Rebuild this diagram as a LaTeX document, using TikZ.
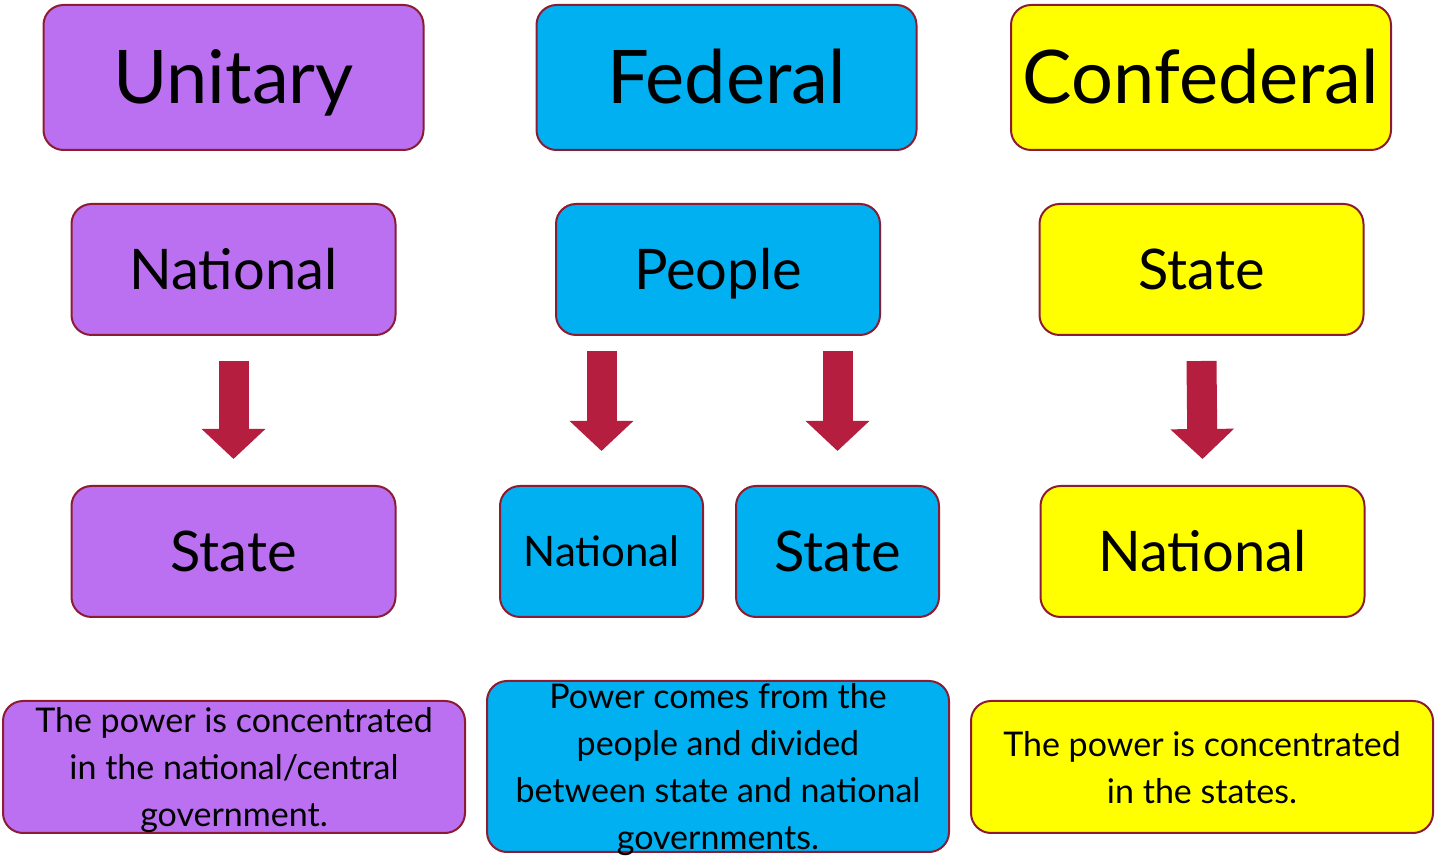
\documentclass[tikz,border=0pt]{standalone}
\usepackage{fontspec}
\setmainfont{Lato}
\usetikzlibrary{arrows.meta}

\definecolor{unipurple}{RGB}{186,112,240}
\definecolor{fedblue}{RGB}{0,176,240}
\definecolor{confyellow}{RGB}{255,255,0}
\definecolor{rim}{RGB}{140,28,50}
\definecolor{arrowred}{RGB}{181,30,62}

\tikzset{
  box/.style={draw=rim, line width=1pt, rounded corners=10pt, align=center, inner sep=0pt},
  title/.style={box, minimum width=190pt, minimum height=72.5pt, text height=26.5pt, text depth=0pt, font=\fontsize{37}{42}\selectfont},
  level/.style={box, minimum width=162pt, minimum height=65.5pt, text height=20pt, text depth=0pt, font=\fontsize{28}{32}\selectfont},
  halflevel/.style={box, minimum width=101.5pt, minimum height=65.5pt, text height=15pt, text depth=0pt, font=\fontsize{21}{25}\selectfont},
  note/.style={box, minimum width=231pt, minimum height=66pt, inner ysep=-8pt, text depth=-7pt, font=\fontsize{17}{23.5}\selectfont},
  flow/.style={arrowred, line width=15pt, -{Triangle[width=31pt, length=15pt]}}
}

\begin{document}
\begin{tikzpicture}[x=0.5pt, y=-0.5pt]
  \useasboundingbox (0,0) rectangle (1437,860);

  % Headings
  \node[title, fill=unipurple] (unitary) at (233.5,77.5) {Unitary};
  \node[title, fill=fedblue] (federal) at (726.5,77.5) {Federal};
  \node[title, fill=confyellow] (confederal) at (1201,77.5) {Confederal};

  % Unitary column
  \node[level, fill=unipurple] (unat) at (233.5,269.5) {National};
  \node[level, fill=unipurple] (ustate) at (233.5,551.5) {State};
  \node[note, fill=unipurple] (unote) at (234,767) {The power is concentrated\\in the national/central\\government.};

  % Federal column
  \node[level, fill=fedblue] (people) at (718,269.5) {People};
  \node[halflevel, fill=fedblue] (fnat) at (601.5,551.5) {National};
  \node[halflevel, fill=fedblue, text height=20pt, font=\fontsize{28}{32}\selectfont] (fstate) at (837.5,551.5) {State};
  \node[note, fill=fedblue, minimum height=85.5pt] (fnote) at (718,766.5) {Power comes from the\\people and divided\\between state and national\\governments.};

  % Confederal column
  \node[level, fill=confyellow] (cstate) at (1201.5,269.5) {State};
  \node[level, fill=confyellow] (cnat) at (1202.5,551.5) {National};
  \node[note, fill=confyellow] (cnote) at (1202,767) {The power is concentrated\\in the states.};

  % Arrows
  \coordinate (fl) at (fnat.north |- people.south);
  \coordinate (fr) at (fstate.north |- people.south);
  \draw[flow] ([yshift=-12.5pt]unat.south) -- ([yshift=13pt]ustate.north);
  \draw[flow] ([yshift=-7.5pt]fl) -- ([yshift=17pt]fnat.north);
  \draw[flow] ([yshift=-7.5pt]fr) -- ([yshift=17pt]fstate.north);
  \draw[flow] ([yshift=-12.5pt]cstate.south) -- ([yshift=13pt]cnat.north);
\end{tikzpicture}
\end{document}
